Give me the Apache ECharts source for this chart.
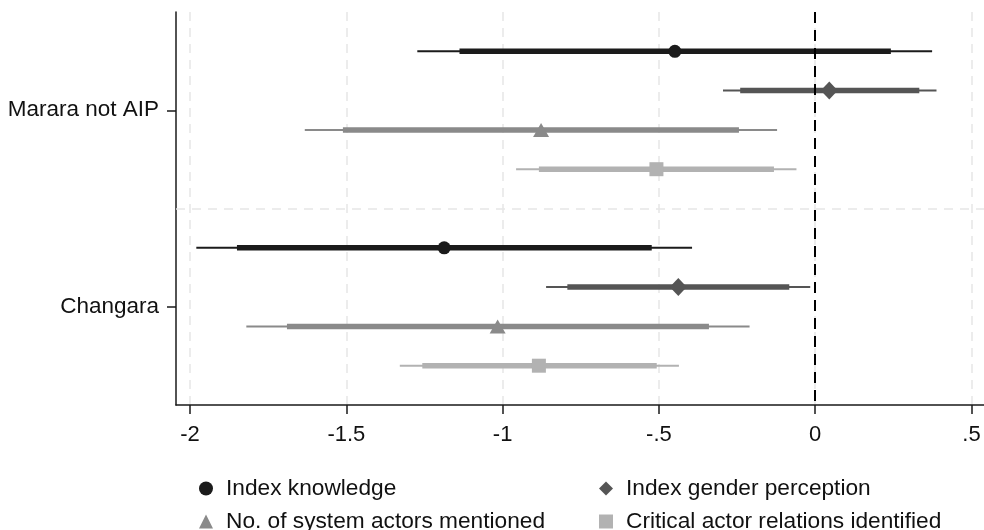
<!DOCTYPE html>
<html>
<head>
<meta charset="utf-8">
<script src="https://cdn.jsdelivr.net/npm/echarts@6/dist/echarts.min.js"></script>
<style>html,body{margin:0;padding:0;background:#fff}#c{width:984px;height:530px}</style>
</head>
<body>
<div id="c"></div>
<script>
// ---- data ----
var groups = ['Marara not AIP', 'Changara'];
var seriesNames = ['Index knowledge', 'Index gender perception', 'No. of system actors mentioned', 'Critical actor relations identified'];
var xTicks = [-2, -1.5, -1, -0.5, 0, 0.5];
var xTickLabels = ['-2', '-1.5', '-1', '-.5', '0', '.5'];

// values per group: [Marara not AIP, Changara]
var knowledgeEst  = [-0.449, -1.187];
var knowledgeLo95 = [-1.273, -1.980];
var knowledgeHi95 = [0.374, -0.394];
var knowledgeLo90 = [-1.138, -1.850];
var knowledgeHi90 = [0.242, -0.523];

var genderEst  = [0.045, -0.438];
var genderLo95 = [-0.295, -0.861];
var genderHi95 = [0.388, -0.016];
var genderLo90 = [-0.240, -0.793];
var genderHi90 = [0.333, -0.083];

var actorsEst  = [-0.877, -1.016];
var actorsLo95 = [-1.633, -1.820];
var actorsHi95 = [-0.122, -0.210];
var actorsLo90 = [-1.511, -1.690];
var actorsHi90 = [-0.244, -0.340];

var criticalEst  = [-0.508, -0.884];
var criticalLo95 = [-0.957, -1.329];
var criticalHi95 = [-0.060, -0.436];
var criticalLo90 = [-0.884, -1.257];
var criticalHi90 = [-0.132, -0.507];

// ---- styling ----
var colors = ['#1b1b1b', '#555555', '#8a8a8a', '#b2b2b2'];
var symbols = ['circle', 'diamond', 'triangle', 'rect'];
var symbolSizes = [13, [17, 18], [16, 14], [14, 14]];
var FONT = '"Liberation Sans", Arial, sans-serif';

var allSets = [
  [knowledgeEst, knowledgeLo95, knowledgeHi95, knowledgeLo90, knowledgeHi90],
  [genderEst, genderLo95, genderHi95, genderLo90, genderHi90],
  [actorsEst, actorsLo95, actorsHi95, actorsLo90, actorsHi90],
  [criticalEst, criticalLo95, criticalHi95, criticalLo90, criticalHi90]
];
var offsets = [-1.5, -0.5, 0.5, 1.5];
var groupSpacing = 5;

function renderCI(width) {
  return function (params, api) {
    var p1 = api.coord([api.value(0), api.value(2)]);
    var p2 = api.coord([api.value(1), api.value(2)]);
    return {
      type: 'line',
      shape: { x1: p1[0], y1: p1[1], x2: p2[0], y2: p2[1] },
      style: { stroke: api.visual('color'), lineWidth: width }
    };
  };
}

var series = [];
allSets.forEach(function (set, s) {
  var est = set[0], lo95 = set[1], hi95 = set[2], lo90 = set[3], hi90 = set[4];
  var d95 = [], d90 = [], dp = [];
  groups.forEach(function (g, gi) {
    var y = gi * groupSpacing + offsets[s];
    d95.push([lo95[gi], hi95[gi], y]);
    d90.push([lo90[gi], hi90[gi], y]);
    dp.push([est[gi], y]);
  });
  series.push({
    type: 'custom', name: seriesNames[s] + ' 95', renderItem: renderCI(2),
    data: d95, encode: { x: [0, 1], y: 2 }, itemStyle: { color: colors[s] }, z: 2, silent: true
  });
  series.push({
    type: 'custom', name: seriesNames[s] + ' 90', renderItem: renderCI(5.5),
    data: d90, encode: { x: [0, 1], y: 2 }, itemStyle: { color: colors[s] }, z: 3, silent: true
  });
  series.push({
    type: 'scatter', name: seriesNames[s], data: dp, symbol: symbols[s],
    symbolSize: symbolSizes[s], itemStyle: { color: colors[s], opacity: 1 }, z: 4
  });
});

// reference line at zero and horizontal separator grid line
series.push({
  type: 'scatter', data: [], silent: true,
  markLine: {
    silent: true, symbol: 'none', animation: false, label: { show: false },
    data: [
      { xAxis: 0, lineStyle: { color: '#000', width: 2, type: [11, 7] } },
      { yAxis: 2.5, lineStyle: { color: '#e6e6e6', width: 1.5, type: [9, 7] } }
    ]
  },
  z: 1
});

var legendCommon = {
  orient: 'vertical', top: 477, height: 90, itemWidth: 14, itemHeight: 14, itemGap: 10,
  textStyle: { fontSize: 22.7, fontFamily: FONT, color: '#111', lineHeight: 22, padding: [0, 0, 0, 8] },
  selectedMode: false, padding: 0
};

var option = {
  animation: false,
  backgroundColor: '#fff',
  grid: { left: 176, right: 0, top: 12, bottom: 125, containLabel: false },
  xAxis: {
    type: 'value', min: -2.045, max: 0.54,
    axisLine: { show: true, onZero: false, lineStyle: { color: '#1a1a1a', width: 1.5 } },
    axisTick: { show: true, length: 9, customValues: xTicks, lineStyle: { color: '#1a1a1a', width: 1.5 } },
    axisLabel: {
      customValues: xTicks, margin: 19, color: '#111', fontSize: 22, fontFamily: FONT,
      formatter: function (v) {
        for (var i = 0; i < xTicks.length; i++) { if (Math.abs(v - xTicks[i]) < 1e-9) return xTickLabels[i]; }
        return '';
      }
    },
    splitLine: { show: true, lineStyle: { color: '#e6e6e6', width: 1.5, type: [9, 7] } }
  },
  yAxis: {
    type: 'value', min: -2.5, max: 7.5, inverse: true,
    axisLine: { show: true, onZero: false, lineStyle: { color: '#1a1a1a', width: 1.5 } },
    axisTick: { show: true, length: 9, customValues: [0, groupSpacing], lineStyle: { color: '#1a1a1a', width: 1.5 } },
    axisLabel: {
      customValues: [0, groupSpacing], margin: 17, color: '#111', fontSize: 22.5, fontFamily: FONT,
      formatter: function (v) { return groups[Math.round(v / groupSpacing)] || ''; }
    },
    splitLine: { show: false }
  },
  legend: [
    Object.assign({}, legendCommon, { left: 199, data: [seriesNames[0], seriesNames[2]] }),
    Object.assign({}, legendCommon, { left: 599, data: [seriesNames[1], seriesNames[3]] })
  ],
  series: series
};

var chart = echarts.init(document.getElementById('c'), null, { renderer: 'canvas' });
chart.setOption(option);
</script>
</body>
</html>
